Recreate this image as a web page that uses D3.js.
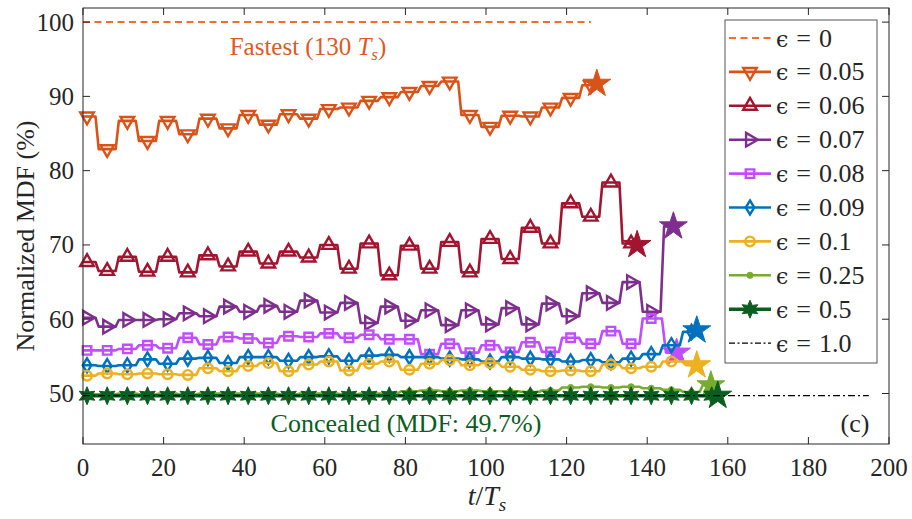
<!DOCTYPE html>
<html>
<head>
<meta charset="utf-8">
<script src="https://cdn.jsdelivr.net/npm/d3@7"></script>
<style>
body { margin: 0; background: #fff; }
svg { display: block; }
</style>
</head>
<body>
<div id="wrapper"></div>
<script>
// sample grid where the markers sit (every 5th step)
const markT = d3.range(1, 160, 5)

const eps0T = [0, 126]
const eps0V = [100, 100]
const eps005 = [87.3, 82.9, 86.7, 84.0, 86.7, 84.9, 87.0, 85.7, 87.5, 86.2, 87.6, 87.0, 88.3, 88.5, 89.4,
    89.9, 90.6, 91.4, 92.0, 87.5, 85.9, 87.4, 87.3, 88.5, 89.8, 91.5]
const eps006 = [67.7, 66.5, 68.4, 66.4, 68.4, 66.3, 68.6, 67.1, 69.1, 67.5, 69.1, 68.3, 70.0, 66.8, 70.2,
    65.9, 69.9, 66.8, 70.4, 66.3, 70.8, 68.1, 72.3, 70.2, 75.6, 73.8, 78.4, 70.2]
const eps007 = [60.2, 59.0, 59.9, 59.9, 60.0, 60.8, 60.4, 61.7, 61.0, 61.8, 61.0, 62.5, 60.9, 62.2, 59.5,
    61.7, 59.8, 61.2, 59.2, 61.2, 59.3, 61.5, 59.3, 62.1, 60.4, 63.5, 62.2, 65.0, 61.0]
const eps008 = [55.8, 55.8, 56.0, 56.5, 56.1, 57.5, 56.6, 57.6, 57.4, 56.8, 57.7, 57.6, 58.1, 57.5, 57.9,
    57.3, 57.3, 55.3, 56.7, 55.5, 56.5, 55.6, 56.9, 55.6, 57.5, 56.7, 58.4, 56.7, 60.1]
const eps009 = [53.8, 53.7, 53.8, 54.6, 54.0, 54.7, 54.8, 54.1, 54.9, 54.9, 54.4, 54.9, 55.0, 54.4, 55.1,
    55.2, 54.9, 54.9, 54.7, 54.6, 54.3, 54.9, 54.7, 54.6, 54.3, 54.5, 54.2, 54.7, 55.3, 56.5, 58.3]
const eps01 = [52.4, 52.7, 52.6, 52.7, 52.6, 52.5, 53.4, 53.0, 53.7, 54.1, 53.0, 53.9, 54.3, 53.1, 54.0,
    54.3, 53.2, 54.0, 54.5, 53.8, 54.1, 53.6, 53.2, 53.0, 53.1, 53.0, 53.9, 53.4, 53.6, 54.3]
const eps025 = [49.9, 49.9, 50.0, 49.9, 50.0, 49.9, 50.0, 50.0, 50.0, 50.0, 49.9, 50.0, 50.0, 49.9, 50.0,
    50.0, 50.3, 50.4, 50.3, 50.4, 50.3, 50.3, 50.2, 50.4, 50.8, 50.9, 50.8, 50.9, 50.7, 50.5, 50.2]
const eps05 = [49.7, 49.7, 49.7, 49.7, 49.7, 49.7, 49.7, 49.7, 49.7, 49.7, 49.7, 49.7, 49.7, 49.7, 49.7, 49.7,
    49.7, 49.7, 49.7, 49.7, 49.7, 49.7, 49.7, 49.7, 49.7, 49.7, 49.7, 49.7, 49.7, 49.7, 49.7, 49.7]
const eps1T = [0, 195]
const eps1V = [49.7, 49.7]

// last sample of each run, drawn as a star: [t, value]
const end005 = [127.5, 91.7]
const end006 = [137.5, 70.0]
const end007 = [146.5, 72.5]
const end008 = [147.3, 55.5]
const end009 = [152.3, 58.5]
const end01 = [152.3, 53.8]
const end025 = [155.8, 51.1]
const end05 = [157.5, 49.7]

const labelVals = ["0", "0.05", "0.06", "0.07", "0.08", "0.09", "0.1", "0.25", "0.5", "1.0"]
const xTicks = [0, 20, 40, 60, 80, 100, 120, 140, 160, 180, 200]
const yTicks = [50, 60, 70, 80, 90, 100]

const serif = "'Liberation Serif', 'Times New Roman', serif"
const axisCol = "#262626"

const dimensions = {
    width: 912,
    height: 519,
    margin: { top: 8, bottom: 75, left: 83, right: 23 }
}
dimensions.boundedWidth = dimensions.width - dimensions.margin.left - dimensions.margin.right
dimensions.boundedHeight = dimensions.height - dimensions.margin.top - dimensions.margin.bottom

const xScale = d3.scaleLinear().domain([0, 200]).range([0, dimensions.boundedWidth])
const yScale = d3.scaleLinear().domain([43.2, 101.9]).range([dimensions.boundedHeight, 0])

const svg = d3.select("#wrapper").append("svg")
    .attr("width", dimensions.width)
    .attr("height", dimensions.height)
const bounded = svg.append("g")
    .attr("transform", `translate(${dimensions.margin.left},${dimensions.margin.top})`)

// plateau + short ramp between samples, like the stepped look of the original
function curveRamp(context) {
    let px, py, n
    return {
        areaStart() {}, areaEnd() {},
        lineStart() { n = 0 },
        lineEnd() {},
        point(x, y) {
            x = +x; y = +y
            if (n === 0) context.moveTo(x, y)
            else {
                const dx = x - px
                context.lineTo(px + dx * 0.42, py)
                context.lineTo(px + dx * 0.58, y)
                context.lineTo(x, y)
            }
            n++; px = x; py = y
        }
    }
}

function markerPath(type) {
    if (type === "down" || type === "up" || type === "right") return d3.symbol(d3.symbolTriangle, 80)()
    if (type === "square") return d3.symbol(d3.symbolSquare, 72)()
    if (type === "diamond") return "M0,-7L4.3,0L0,7L-4.3,0Z"
    if (type === "circle") return d3.symbol(d3.symbolCircle, 72)()
    if (type === "dot") return d3.symbol(d3.symbolCircle, 30)()
    if (type === "hex") {
        const pts = []
        for (let i = 0; i < 12; i++) {
            const a = Math.PI / 6 * i - Math.PI / 2
            const r = i % 2 === 0 ? 9 : 4.4
            pts.push([r * Math.cos(a), r * Math.sin(a)])
        }
        return "M" + pts.join("L") + "Z"
    }
    return null
}
const rotation = { down: 180, right: 90 }

const series = [
    { vals: eps005, end: end005, color: "#d95319", marker: "down", lw: 2.6 },
    { vals: eps006, end: end006, color: "#a2142f", marker: "up", lw: 2.6 },
    { vals: eps007, end: end007, color: "#7e2f8e", marker: "right", lw: 2.6 },
    { vals: eps008, end: end008, color: "#c04dff", marker: "square", lw: 2.6 },
    { vals: eps009, end: end009, color: "#0072bd", marker: "diamond", lw: 2.6 },
    { vals: eps01, end: end01, color: "#edb120", marker: "circle", lw: 2.6 },
    { vals: eps025, end: end025, color: "#77ac30", marker: "dot", lw: 2.6 },
    { vals: eps05, end: end05, color: "#0b5e1f", marker: "hex", lw: 3.4 },
]

const line = d3.line().x(d => xScale(d[0])).y(d => yScale(d[1]))
const stepLine = d3.line().x(d => xScale(d[0])).y(d => yScale(d[1])).curve(curveRamp)

// eps = 0
bounded.append("path")
    .attr("d", line(eps0T.map((t, i) => [t, eps0V[i]])))
    .attr("fill", "none").attr("stroke", "#ff6929").attr("stroke-width", 2)
    .attr("stroke-dasharray", "7,4.5")

function drawMarker(g, type, color, x, y) {
    const p = g.append("path")
        .attr("d", markerPath(type))
        .attr("transform", `translate(${x},${y}) rotate(${rotation[type] || 0})`)
    if (type === "dot" || type === "hex") p.attr("fill", color).attr("stroke", color).attr("stroke-width", 1)
    else p.attr("fill", "none").attr("stroke", color).attr("stroke-width", 2.4)
}

series.forEach(s => {
    const pts = s.vals.map((v, i) => [markT[i], v])
    const linePts = [[0, s.vals[0]], ...pts, s.end]
    const g = bounded.append("g")
    g.append("path")
        .attr("d", stepLine(linePts))
        .attr("fill", "none")
        .attr("stroke", s.color)
        .attr("stroke-width", s.lw)
        .attr("stroke-linejoin", "round")
    pts.forEach(d => drawMarker(g, s.marker, s.color, xScale(d[0]), yScale(d[1])))
    g.append("path")
        .attr("d", d3.symbol(d3.symbolStar, 240)())
        .attr("transform", `translate(${xScale(s.end[0])},${yScale(s.end[1])})`)
        .attr("fill", s.color)
        .attr("stroke", s.color)
        .attr("stroke-width", 1)
})

// eps = 1.0
bounded.append("path")
    .attr("d", line(eps1T.map((t, i) => [t, eps1V[i]])))
    .attr("fill", "none").attr("stroke", "#000").attr("stroke-width", 1.2)
    .attr("stroke-dasharray", "7,3,2,3")

// axes box with inward ticks on all sides
const W = dimensions.boundedWidth, H = dimensions.boundedHeight
bounded.append("rect").attr("width", W).attr("height", H)
    .attr("fill", "none").attr("stroke", axisCol).attr("stroke-width", 1)

xTicks.forEach(t => {
    const x = xScale(t)
    bounded.append("line").attr("x1", x).attr("x2", x).attr("y1", H).attr("y2", H - 7).attr("stroke", axisCol)
    bounded.append("line").attr("x1", x).attr("x2", x).attr("y1", 0).attr("y2", 7).attr("stroke", axisCol)
    bounded.append("text").text(t)
        .attr("x", x).attr("y", H + 32)
        .attr("text-anchor", "middle")
        .style("font-family", serif).style("font-size", "25px").style("fill", axisCol)
})
yTicks.forEach(t => {
    const y = yScale(t)
    bounded.append("line").attr("x1", 0).attr("x2", 7).attr("y1", y).attr("y2", y).attr("stroke", axisCol)
    bounded.append("line").attr("x1", W).attr("x2", W - 7).attr("y1", y).attr("y2", y).attr("stroke", axisCol)
    bounded.append("text").text(t)
        .attr("x", -9).attr("y", y + 8.5)
        .attr("text-anchor", "end")
        .style("font-family", serif).style("font-size", "25px").style("fill", axisCol)
})

// axis labels
svg.append("text")
    .attr("transform", `translate(34,236) rotate(-90)`)
    .attr("text-anchor", "middle")
    .style("font-family", serif).style("font-size", "26px").style("fill", axisCol)
    .text("Normalized MDF (%)")

const xl = svg.append("text")
    .attr("x", 487).attr("y", 505)
    .attr("text-anchor", "middle")
    .style("font-family", serif).style("font-size", "28px").style("fill", axisCol)
xl.append("tspan").text("t").style("font-style", "italic")
xl.append("tspan").text("/")
xl.append("tspan").text("T").style("font-style", "italic")
xl.append("tspan").text("s").style("font-style", "italic").style("font-size", "19px").attr("dy", 6)

// annotations
const fast = svg.append("text")
    .attr("x", 308).attr("y", 55)
    .attr("text-anchor", "middle")
    .style("font-family", serif).style("font-size", "25px").style("fill", "#dd5a24")
fast.append("tspan").text("Fastest (130 ")
fast.append("tspan").text("T").style("font-style", "italic")
fast.append("tspan").text("s").style("font-style", "italic").style("font-size", "17px").attr("dy", 5)
fast.append("tspan").text(")").attr("dy", -5)

svg.append("text")
    .attr("x", 406).attr("y", 432)
    .attr("text-anchor", "middle")
    .style("font-family", serif).style("font-size", "26px").style("fill", "#0b5e1f")
    .text("Concealed (MDF: 49.7%)")

svg.append("text")
    .attr("x", 855).attr("y", 432)
    .attr("text-anchor", "middle")
    .style("font-family", serif).style("font-size", "26px").style("fill", axisCol)
    .text("(c)")

// legend
const legend = svg.append("g")
legend.append("rect")
    .attr("x", 725).attr("y", 20).attr("width", 152).attr("height", 343)
    .attr("fill", "#fff").attr("stroke", "#555").attr("stroke-width", 1)

const legendItems = [
    { color: "#ff6929", dash: "7,4.5", lw: 2, marker: null },
    ...series.map(s => ({ color: s.color, dash: null, lw: s.lw, marker: s.marker })),
    { color: "#000", dash: "6,2.5,2,2.5", lw: 1.2, marker: null },
]
legendItems.forEach((d, i) => {
    const y = 38 + i * 33.9
    legend.append("line")
        .attr("x1", 729).attr("x2", 771).attr("y1", y).attr("y2", y)
        .attr("stroke", d.color).attr("stroke-width", d.lw)
        .attr("stroke-dasharray", d.dash)
    if (d.marker) drawMarker(legend, d.marker, d.color, 750, y)
    const txt = legend.append("text")
        .attr("x", 776).attr("y", y + 8.5)
        .style("font-family", serif).style("font-size", "26px").style("fill", axisCol)
    txt.append("tspan").text("ϵ").style("font-family", "'DejaVu Serif', serif").style("font-size", "22px")
    txt.append("tspan").text("=").attr("dx", 8)
    txt.append("tspan").text(labelVals[i]).attr("dx", 8)
})
</script>
</body>
</html>
